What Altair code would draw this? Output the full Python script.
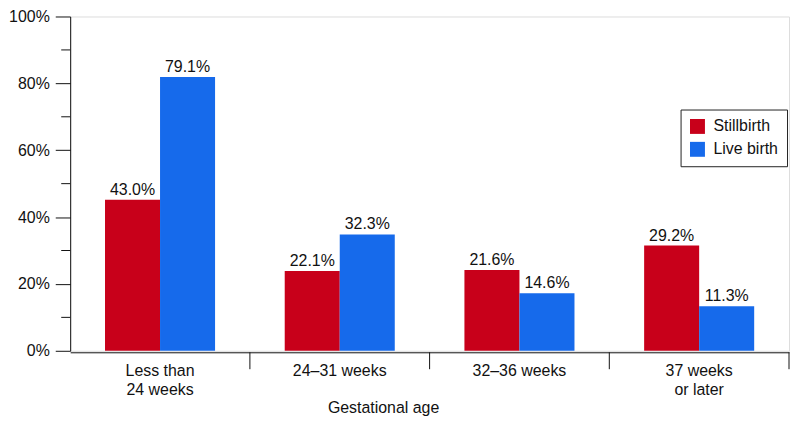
import altair as alt
import pandas as pd

# ---- data ----
categories = ["Less than|24 weeks", "24–31 weeks", "32–36 weeks", "37 weeks|or later"]
series = ["Stillbirth", "Live birth"]
stillbirth_bar = [45.2, 23.9, 24.2, 31.5]      # drawn bar heights (%)
livebirth_bar = [81.9, 34.8, 17.2, 13.3]
stillbirth_label = ["43.0%", "22.1%", "21.6%", "29.2%"]
livebirth_label = ["79.1%", "32.3%", "14.6%", "11.3%"]
y_major = [0, 20, 40, 60, 80, 100]
y_minor = [10, 30, 50, 70, 90]
colors = ["#C8001A", "#166AEB"]

rows = []
for i, c in enumerate(categories):
    rows.append(dict(cat=c, series=series[0], value=stillbirth_bar[i], label=stillbirth_label[i]))
    rows.append(dict(cat=c, series=series[1], value=livebirth_bar[i], label=livebirth_label[i]))
df = pd.DataFrame(rows)
df_cats = pd.DataFrame({"cat": categories})
df_minor = pd.DataFrame({"v": y_minor})

FONT = "Liberation Sans"
INK = "#111111"

x_axis = alt.Axis(
    title="Gestational age",
    labelExpr="split(datum.label, '|')",
    labelAngle=0,
    labelFont=FONT,
    labelFontSize=16,
    labelColor=INK,
    labelLineHeight=19,
    labelBaseline="alphabetic",
    labelPadding=23,
    ticks=False,
    tickSize=0,
    offset=1.5,
    domainColor=INK,
    domainWidth=1,
    titleFont=FONT,
    titleFontSize=16,
    titleFontWeight="normal",
    titleColor=INK,
    titleX=314.5,
    titleY=61,
    titleAlign="center",
    titleBaseline="alphabetic",
    labelOverlap=False,
)
x_scale = alt.Scale(domain=categories, paddingInner=0, paddingOuter=0)

y_scale = alt.Scale(domain=[0, 100], nice=False, zero=True)
y_axis = alt.Axis(
    values=y_major,
    labelExpr="datum.value + '%'",
    title=None,
    grid=False,
    tickSize=15,
    tickColor=INK,
    domainColor=INK,
    labelPadding=6,
    labelFont=FONT,
    labelFontSize=16,
    labelColor=INK,
    labelOverlap=False,
)

xoff = alt.XOffset("series:N", sort=series,
                   scale=alt.Scale(domain=series, paddingOuter=0.633, paddingInner=0))

bars = alt.Chart(df).mark_bar().encode(
    x=alt.X("cat:N", sort=categories, scale=x_scale, axis=x_axis),
    xOffset=xoff,
    y=alt.Y("value:Q", scale=y_scale, axis=y_axis),
    color=alt.Color(
        "series:N", sort=series,
        scale=alt.Scale(domain=series, range=colors),
        legend=alt.Legend(
            orient="none", legendX=613.5, legendY=93.5, title=None,
            symbolType="square", symbolSize=225, symbolStrokeWidth=0,
            labelFont=FONT, labelFontSize=16, labelColor=INK,
            padding=9, rowPadding=7, labelOffset=8,
            strokeColor="#222222", fillColor="white",
        ),
    ),
)

labels = alt.Chart(df).mark_text(
    dy=-5, baseline="alphabetic", align="center", font=FONT, fontSize=16, color=INK
).encode(
    x=alt.X("cat:N", sort=categories, scale=x_scale, axis=x_axis),
    xOffset=xoff,
    y=alt.Y("value:Q", scale=y_scale, axis=y_axis),
    text="label:N",
)

separators = alt.Chart(df_cats).mark_rule(color=INK, strokeWidth=1).encode(
    x=alt.X("cat:N", sort=categories, scale=x_scale, axis=x_axis, bandPosition=1),
    y=alt.value(337.5),
    y2=alt.value(354.5),
)

minor = alt.Chart(df_minor).mark_rule(color=INK, strokeWidth=1).encode(
    y=alt.Y("v:Q", scale=y_scale, axis=y_axis),
    x=alt.value(-9),
    x2=alt.value(0),
)

chart = alt.layer(bars, labels, separators, minor).properties(
    width=722.5,
    height=336,
    padding={"left": 62.5, "top": 7.5, "right": 3, "bottom": 65.5},
    autosize=alt.AutoSizeParams(type="none"),
).configure_view(stroke=None).configure(background="white")

chart.save("out.html", embed_options={"renderer": "svg", "actions": False})
